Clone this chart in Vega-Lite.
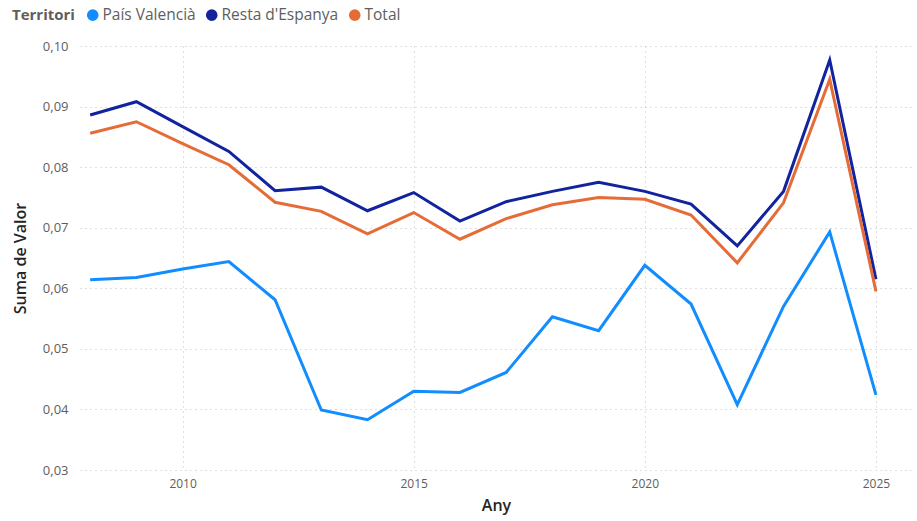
{
  "$schema": "https://vega.github.io/schema/vega-lite/v6.json",
  "autosize": "none",
  "width": 832,
  "height": 424,
  "padding": {"left": 80, "top": 46, "right": 5, "bottom": 51},
  "background": "white",
  "config": {
    "locale": {"number": {"decimal": ",", "thousands": ".", "grouping": [3], "currency": ["", " €"]}},
    "font": "Open Sans",
    "view": {"stroke": null}
  },
  "data": {
    "values": [
      {"Any": 2008, "Territori": "País Valencià", "Valor": 0.0614},
      {"Any": 2009, "Territori": "País Valencià", "Valor": 0.0618},
      {"Any": 2010, "Territori": "País Valencià", "Valor": 0.0632},
      {"Any": 2011, "Territori": "País Valencià", "Valor": 0.0644},
      {"Any": 2012, "Territori": "País Valencià", "Valor": 0.0581},
      {"Any": 2013, "Territori": "País Valencià", "Valor": 0.0399},
      {"Any": 2014, "Territori": "País Valencià", "Valor": 0.0383},
      {"Any": 2015, "Territori": "País Valencià", "Valor": 0.0430},
      {"Any": 2016, "Territori": "País Valencià", "Valor": 0.0428},
      {"Any": 2017, "Territori": "País Valencià", "Valor": 0.0461},
      {"Any": 2018, "Territori": "País Valencià", "Valor": 0.0553},
      {"Any": 2019, "Territori": "País Valencià", "Valor": 0.0530},
      {"Any": 2020, "Territori": "País Valencià", "Valor": 0.0638},
      {"Any": 2021, "Territori": "País Valencià", "Valor": 0.0574},
      {"Any": 2022, "Territori": "País Valencià", "Valor": 0.0408},
      {"Any": 2023, "Territori": "País Valencià", "Valor": 0.0570},
      {"Any": 2024, "Territori": "País Valencià", "Valor": 0.0693},
      {"Any": 2025, "Territori": "País Valencià", "Valor": 0.0424},
      {"Any": 2008, "Territori": "Resta d'Espanya", "Valor": 0.0886},
      {"Any": 2009, "Territori": "Resta d'Espanya", "Valor": 0.0908},
      {"Any": 2010, "Territori": "Resta d'Espanya", "Valor": 0.0867},
      {"Any": 2011, "Territori": "Resta d'Espanya", "Valor": 0.0826},
      {"Any": 2012, "Territori": "Resta d'Espanya", "Valor": 0.0761},
      {"Any": 2013, "Territori": "Resta d'Espanya", "Valor": 0.0767},
      {"Any": 2014, "Territori": "Resta d'Espanya", "Valor": 0.0728},
      {"Any": 2015, "Territori": "Resta d'Espanya", "Valor": 0.0758},
      {"Any": 2016, "Territori": "Resta d'Espanya", "Valor": 0.0711},
      {"Any": 2017, "Territori": "Resta d'Espanya", "Valor": 0.0743},
      {"Any": 2018, "Territori": "Resta d'Espanya", "Valor": 0.0760},
      {"Any": 2019, "Territori": "Resta d'Espanya", "Valor": 0.0775},
      {"Any": 2020, "Territori": "Resta d'Espanya", "Valor": 0.0760},
      {"Any": 2021, "Territori": "Resta d'Espanya", "Valor": 0.0739},
      {"Any": 2022, "Territori": "Resta d'Espanya", "Valor": 0.0670},
      {"Any": 2023, "Territori": "Resta d'Espanya", "Valor": 0.0760},
      {"Any": 2024, "Territori": "Resta d'Espanya", "Valor": 0.0977},
      {"Any": 2025, "Territori": "Resta d'Espanya", "Valor": 0.0615},
      {"Any": 2008, "Territori": "Total", "Valor": 0.0856},
      {"Any": 2009, "Territori": "Total", "Valor": 0.0875},
      {"Any": 2010, "Territori": "Total", "Valor": 0.0839},
      {"Any": 2011, "Territori": "Total", "Valor": 0.0804},
      {"Any": 2012, "Territori": "Total", "Valor": 0.0742},
      {"Any": 2013, "Territori": "Total", "Valor": 0.0727},
      {"Any": 2014, "Territori": "Total", "Valor": 0.0690},
      {"Any": 2015, "Territori": "Total", "Valor": 0.0725},
      {"Any": 2016, "Territori": "Total", "Valor": 0.0681},
      {"Any": 2017, "Territori": "Total", "Valor": 0.0715},
      {"Any": 2018, "Territori": "Total", "Valor": 0.0738},
      {"Any": 2019, "Territori": "Total", "Valor": 0.0750},
      {"Any": 2020, "Territori": "Total", "Valor": 0.0747},
      {"Any": 2021, "Territori": "Total", "Valor": 0.0721},
      {"Any": 2022, "Territori": "Total", "Valor": 0.0642},
      {"Any": 2023, "Territori": "Total", "Valor": 0.0741},
      {"Any": 2024, "Territori": "Total", "Valor": 0.0945},
      {"Any": 2025, "Territori": "Total", "Valor": 0.0595}
    ]
  },
  "mark": {"type": "line", "strokeWidth": 3, "strokeJoin": "miter", "clip": false},
  "encoding": {
    "x": {
      "field": "Any",
      "type": "quantitative",
      "scale": {"domain": [2007.78, 2025.78], "nice": false, "zero": false},
      "axis": {
        "values": [2010, 2015, 2020, 2025],
        "format": "d",
        "title": "Any",
        "titleFontSize": 16,
        "titleFontWeight": 600,
        "titleColor": "#252423",
        "titlePadding": 8,
        "labelFontSize": 12,
        "labelColor": "#605E5C",
        "labelPadding": 8,
        "domain": false,
        "ticks": false,
        "grid": true,
        "gridDash": [1, 4],
        "gridColor": "#BEBEBE",
        "gridWidth": 1
      }
    },
    "y": {
      "field": "Valor",
      "type": "quantitative",
      "scale": {"domain": [0.03, 0.1], "nice": false, "zero": false},
      "axis": {
        "values": [0.03, 0.04, 0.05, 0.06, 0.07, 0.08, 0.09, 0.1],
        "format": ".2f",
        "title": "Suma de Valor",
        "titleFontSize": 16,
        "titleFontWeight": 600,
        "titleColor": "#252423",
        "titlePadding": 14,
        "labelFontSize": 13,
        "labelColor": "#605E5C",
        "labelPadding": 12,
        "domain": false,
        "ticks": false,
        "grid": true,
        "gridDash": [1, 4],
        "gridColor": "#BEBEBE",
        "gridWidth": 1
      }
    },
    "color": {
      "field": "Territori",
      "type": "nominal",
      "scale": {
        "domain": ["País Valencià", "Resta d'Espanya", "Total"],
        "range": ["#118DFF", "#12239E", "#E66C37"]
      },
      "legend": {
        "orient": "none",
        "legendX": -68,
        "legendY": -39,
        "direction": "horizontal",
        "title": "Territori",
        "titleOrient": "left",
        "titleFontSize": 15,
        "titleFontWeight": "bold",
        "titleColor": "#605E5C",
        "titlePadding": 10,
        "labelFontSize": 15.5,
        "labelColor": "#605E5C",
        "labelOffset": 2,
        "symbolType": "circle",
        "symbolSize": 135,
        "symbolStrokeWidth": 0,
        "symbolOpacity": 1,
        "columnPadding": 8,
        "encode": {
          "symbols": {"update": {"fill": {"scale": "color", "field": "value"}, "opacity": {"value": 1}}}
        }
      }
    }
  }
}
